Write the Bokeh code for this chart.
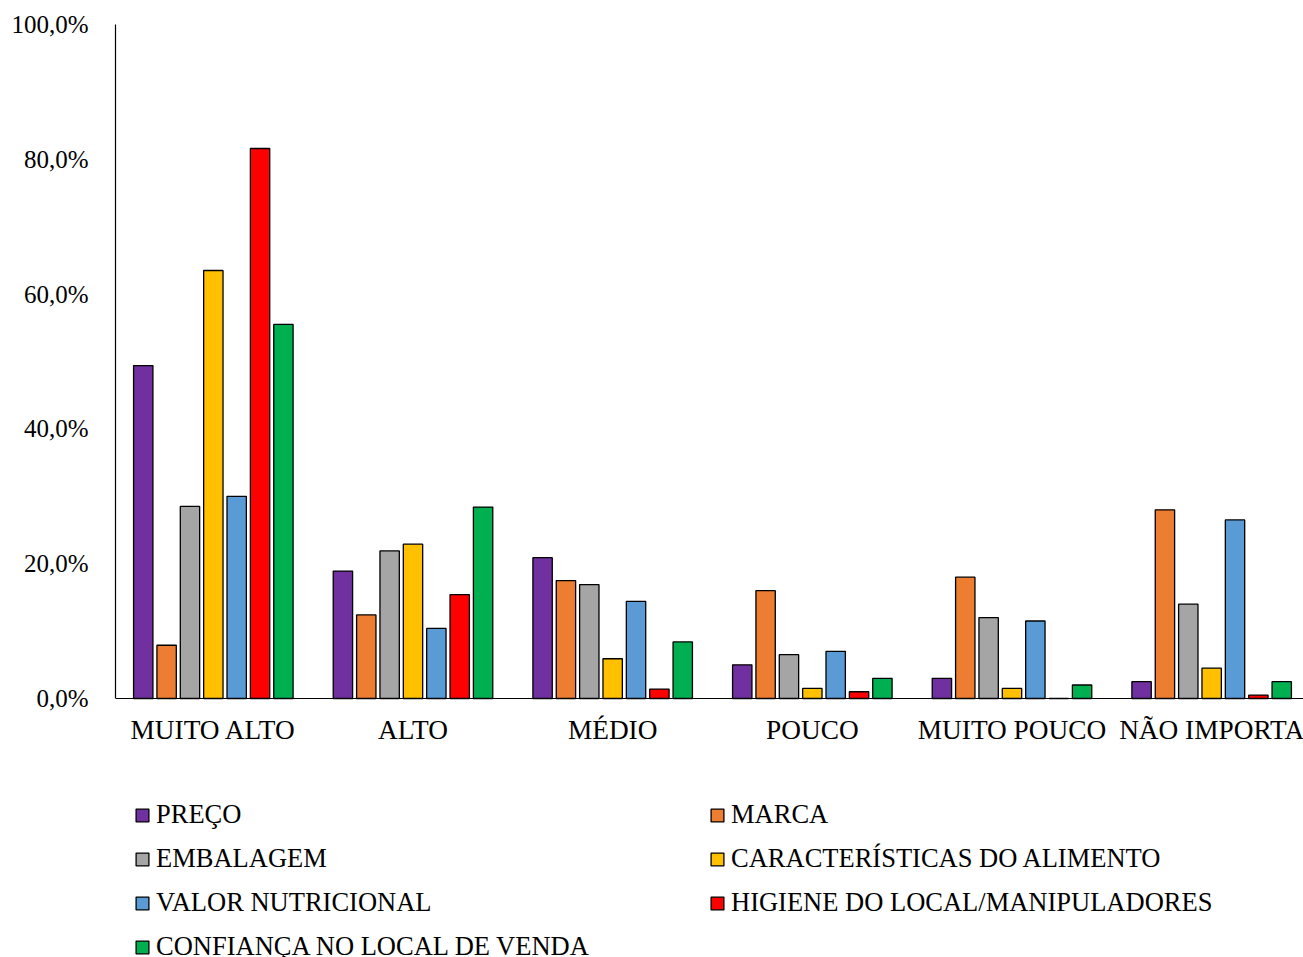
from bokeh.plotting import figure
from bokeh.models import (ColumnDataSource, Range1d, FixedTicker, Legend, LegendItem, Span)
from bokeh.core.properties import value
from bokeh.transform import dodge
from bokeh.embed import file_html
from bokeh.resources import INLINE

categories = ["MUITO ALTO", "ALTO", "MÉDIO", "POUCO", "MUITO POUCO", "NÃO IMPORTA"]
series_names = ["PREÇO", "MARCA", "EMBALAGEM", "CARACTERÍSTICAS DO ALIMENTO",
                "VALOR NUTRICIONAL", "HIGIENE DO LOCAL/MANIPULADORES",
                "CONFIANÇA NO LOCAL DE VENDA"]
preco = [49.4, 18.9, 20.9, 5.0, 3.0, 2.5]
marca = [7.9, 12.4, 17.5, 16.0, 18.0, 28.0]
embalagem = [28.5, 21.9, 16.9, 6.5, 12.0, 14.0]
caracteristicas = [63.5, 22.9, 5.9, 1.5, 1.5, 4.5]
valor_nutricional = [30.0, 10.4, 14.4, 7.0, 11.5, 26.5]
higiene = [81.6, 15.4, 1.4, 1.0, 0.0, 0.5]
confianca = [55.5, 28.4, 8.4, 3.0, 2.0, 2.5]
y_ticks = [0, 20, 40, 60, 80, 100]
y_tick_labels = ["0,0%", "20,0%", "40,0%", "60,0%", "80,0%", "100,0%"]

colors = ["#7030A0", "#ED7D31", "#A5A5A5", "#FFC000", "#5B9BD5", "#FF0000", "#00B050"]
series = [preco, marca, embalagem, caracteristicas, valor_nutricional, higiene, confianca]

FONT = "Liberation Serif"

# layout (pixels)
W, H = 1303, 957
TOP, ZERO_Y, LEFT = 24, 698, 115
y_max = 100
y_min = -y_max * (H - ZERO_Y) / (ZERO_Y - TOP)   # room for labels + legend below 0

data = {"x": list(range(len(categories))), "cat": categories}
for i, s in enumerate(series):
    data[f"s{i}"] = s
src = ColumnDataSource(data)

p = figure(width=W, height=H, output_backend="svg", toolbar_location=None,
           x_range=Range1d(-0.49, 5.46), y_range=Range1d(y_min, y_max),
           x_axis_location=None,
           min_border_left=LEFT, min_border_right=0, min_border_top=TOP,
           min_border_bottom=0)
p.outline_line_color = None
p.xgrid.visible = False
p.ygrid.visible = False
p.background_fill_color = "white"

step = 0.117
width = 0.097
renderers = []
for i, s in enumerate(series):
    r = p.vbar(x=dodge("x", (i - 3) * step), top=f"s{i}", width=width, bottom=0,
               source=src, fill_color=colors[i], line_color="black", line_width=1.3)
    renderers.append(r)

# baseline (category axis line)
p.add_layout(Span(location=0, dimension="width", line_color="black", line_width=1.2))

# category labels
p.text(x="x", y=0, text="cat", source=src, y_offset=31, text_align="center",
       text_baseline="middle", text_font=value(FONT), text_font_size="27.3px",
       text_color="black")

ya = p.yaxis[0]
ya.ticker = FixedTicker(ticks=y_ticks)
ya.major_label_overrides = {t: l for t, l in zip(y_ticks, y_tick_labels)}
ya.bounds = (0, y_max)
ya.major_tick_line_color = None
ya.minor_tick_line_color = None
ya.major_tick_out = 0
ya.major_tick_in = 0
ya.minor_tick_out = 0
ya.axis_line_color = "black"
ya.axis_line_width = 1.2
ya.major_label_text_font = FONT
ya.major_label_text_color = "black"
ya.major_label_text_font_size = "25px"
ya.major_label_standoff = 27

items = [LegendItem(label=series_names[i], renderers=[renderers[i]]) for i in range(7)]
lg = Legend(items=items, location=(19, -5), orientation="horizontal", ncols=2)
lg.label_text_font = FONT
lg.label_text_font_size = "26.5px"
lg.label_text_color = "black"
lg.glyph_width = 16
lg.glyph_height = 16
lg.label_standoff = 6
lg.label_width = 540
lg.label_height = 30
lg.spacing = 13
lg.padding = 0
lg.margin = 0
lg.border_line_color = None
lg.background_fill_alpha = 0
p.add_layout(lg)

open("out.html", "w").write(file_html(p, INLINE))
